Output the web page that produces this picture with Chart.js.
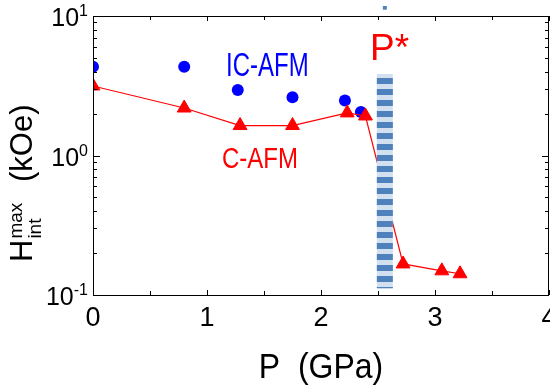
<!DOCTYPE html>
<html>
<head>
<meta charset="utf-8">
<script src="https://cdn.jsdelivr.net/npm/chart.js@4.4.1/dist/chart.umd.min.js"></script>
<style>
  body { margin: 0; background: #fff; }
  canvas { display: block; }
</style>
</head>
<body>
<canvas id="myChart" width="550" height="385"></canvas>
<script>
// values
var pressureIC = [0, 0.80, 1.27, 1.75, 2.21, 2.35];
var fieldIC = [4.32, 4.32, 2.95, 2.62, 2.48, 2.05];

var pressureC = [0, 0.80, 1.29, 1.75, 2.23, 2.39, 2.72, 3.06, 3.22];
var fieldC = [3.15, 2.19, 1.64, 1.64, 2.02, 1.92, 0.167, 0.149, 0.142];

var pressureStar = [2.56, 2.56];
var fieldStar = [3.84, 0.112];
var markTop = [11.1, 11.8];

var xTicks = [0, 1, 2, 3, 4];
var yTickLabels = ['10', '10', '10'];

var RED = '#ff0000';
var BLUE = '#0000ff';
var STRIPE = '#4f81bd';
var STRIPE_LIGHT = '#d3e0f0';
var FONT = '"Liberation Sans", Arial, sans-serif';

function pts(xs, ys) {
    var out = [];
    for (var i = 0; i < xs.length; i++) {
        out.push({ x: xs[i], y: ys[i] });
    }
    return out;
}

function text(ctx, str, x, y, size, color, align, sy) {
    ctx.save();
    ctx.translate(x, y);
    ctx.scale(1, sy || 1);
    ctx.font = size + 'px ' + FONT;
    ctx.fillStyle = color;
    ctx.textAlign = align || 'left';
    ctx.textBaseline = 'alphabetic';
    ctx.fillText(str, 0, 0);
    ctx.restore();
}

function isWhole(v) {
    var e = Math.floor(Math.log10(v) + 1e-9);
    var s = v / Math.pow(10, e);
    return Math.abs(s - Math.round(s)) < 1e-6;
}

var framePlugin = {
    id: 'frame',
    afterDatasetsDraw: function (chart) {
        var ctx = chart.ctx;
        var a = chart.chartArea;
        var xs = chart.scales.x;
        var ys = chart.scales.y;
        ctx.save();
        ctx.strokeStyle = '#000';
        ctx.lineWidth = 1;
        ctx.strokeRect(a.left + 0.5, a.top + 0.5, a.right - a.left - 1, a.bottom - a.top);

        ctx.beginPath();
        xs.ticks.forEach(function (t) {
            var px = Math.round(xs.getPixelForValue(t.value)) + 0.5;
            var len = Number.isInteger(t.value) ? 5 : 4;
            ctx.moveTo(px, a.bottom);
            ctx.lineTo(px, a.bottom - len);
            ctx.moveTo(px, a.top);
            ctx.lineTo(px, a.top + len);
        });
        ys.ticks.forEach(function (t) {
            if (!isWhole(t.value)) return;
            var py = Math.round(ys.getPixelForValue(t.value)) + 0.5;
            var major = Math.abs(Math.log10(t.value) - Math.round(Math.log10(t.value))) < 1e-6;
            var len = major ? 7 : 4;
            ctx.moveTo(a.left, py);
            ctx.lineTo(a.left + len, py);
            ctx.moveTo(a.right, py);
            ctx.lineTo(a.right - len, py);
        });
        ctx.stroke();
        ctx.restore();
    },
    afterDraw: function (chart) {
        var ctx = chart.ctx;
        var a = chart.chartArea;
        var xs = chart.scales.x;
        var ys = chart.scales.y;

        // x tick labels
        xTicks.forEach(function (v) {
            text(ctx, String(v), xs.getPixelForValue(v), 326, 27, '#000', 'center');
        });

        // y tick labels 10^n
        var k = 0;
        ys.ticks.forEach(function (t) {
            var lg = Math.log10(t.value);
            if (Math.abs(lg - Math.round(lg)) > 1e-6) return;
            var py = ys.getPixelForValue(t.value);
            var ex = String(Math.round(lg));
            ctx.save();
            ctx.font = '16px ' + FONT;
            var ew = ctx.measureText(ex).width;
            ctx.restore();
            text(ctx, ex, a.left - 5, py, 16, '#000', 'right');
            text(ctx, yTickLabels[k % yTickLabels.length], a.left - 5 - ew, py + 10, 25, '#000', 'right');
            k++;
        });

        // annotations
        text(ctx, 'IC-AFM', 226, 76, 24, BLUE, 'left', 1.35);
        text(ctx, 'C-AFM', 222, 168, 24, RED, 'left', 1.2);
        text(ctx, 'P*', 370, 60, 37, RED, 'left');

        // x axis title
        text(ctx, 'P  (GPa)', 321, 378, 32, '#000', 'center', 1.08);

        // y axis title
        ctx.save();
        ctx.translate(32, 262);
        ctx.rotate(-Math.PI / 2);
        ctx.fillStyle = '#000';
        ctx.textBaseline = 'alphabetic';
        ctx.textAlign = 'left';
        ctx.font = '31px ' + FONT;
        ctx.fillText('H', 0, 0);
        var hw = ctx.measureText('H').width;
        ctx.font = '19px ' + FONT;
        ctx.fillText('int', hw + 1, 9);
        ctx.fillText('max', hw + 1, -10);
        ctx.font = '31px ' + FONT;
        ctx.fillText('(kOe)', 80, 0);
        ctx.restore();
    }
};

var ctx = document.getElementById('myChart').getContext('2d');

var myChart = new Chart(ctx, {
    type: 'scatter',
    data: {
        datasets: [{
            label: 'P* top',
            data: pts(pressureStar.slice(0, 1).concat(pressureStar.slice(0, 1)), markTop),
            showLine: true,
            borderColor: STRIPE,
            borderWidth: 4,
            pointRadius: 0,
            clip: false,
            order: 0
        }, {
            label: 'P*',
            data: pts(pressureStar, fieldStar),
            showLine: true,
            borderColor: STRIPE,
            borderWidth: 16,
            borderDash: [6, 5],
            borderDashOffset: 7,
            borderCapStyle: 'butt',
            pointRadius: 0,
            clip: 0,
            order: 1
        }, {
            label: 'P* band',
            data: pts(pressureStar, fieldStar),
            showLine: true,
            borderColor: STRIPE_LIGHT,
            borderWidth: 16,
            borderCapStyle: 'butt',
            pointRadius: 0,
            clip: 0,
            order: 2
        }, {
            label: 'C-AFM',
            data: pts(pressureC, fieldC),
            showLine: true,
            borderColor: RED,
            backgroundColor: RED,
            borderWidth: 1.2,
            pointStyle: 'triangle',
            pointRadius: 8,
            pointBorderWidth: 1,
            clip: 0,
            order: 3
        }, {
            label: 'IC-AFM',
            data: pts(pressureIC, fieldIC),
            showLine: false,
            borderColor: BLUE,
            backgroundColor: BLUE,
            pointStyle: 'circle',
            pointRadius: 6,
            pointBorderWidth: 0,
            clip: 0,
            order: 4
        }]
    },
    options: {
        responsive: false,
        animation: false,
        layout: {
            autoPadding: false,
            padding: { top: 16, right: 1, left: 0, bottom: 0 }
        },
        plugins: {
            legend: { display: false },
            tooltip: { enabled: false }
        },
        scales: {
            x: {
                type: 'linear',
                min: 0,
                max: 4,
                afterFit: function (s) {
                    s.height = 90;
                    s.paddingLeft = 0;
                    s.paddingRight = 0;
                },
                afterBuildTicks: function (s) {
                    var t = [];
                    for (var v = 0; v <= 4; v += 0.5) t.push({ value: v });
                    s.ticks = t;
                },
                grid: { display: false, drawTicks: false },
                border: { display: false },
                ticks: { display: false }
            },
            y: {
                type: 'logarithmic',
                min: 0.1,
                max: 10,
                afterFit: function (s) {
                    s.width = 93;
                    s.paddingTop = 0;
                    s.paddingBottom = 0;
                },
                grid: { display: false, drawTicks: false },
                border: { display: false },
                ticks: { display: false }
            }
        }
    },
    plugins: [framePlugin]
});
</script>
</body>
</html>
